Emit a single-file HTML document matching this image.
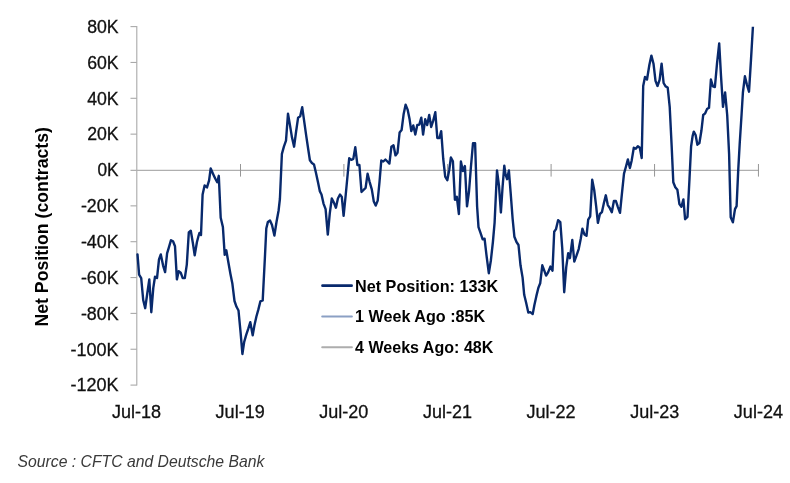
<!DOCTYPE html>
<html><head><meta charset="utf-8"><title>Net Position</title>
<style>html,body{margin:0;padding:0;background:#fff;}body{width:790px;height:483px;overflow:hidden;font-family:"Liberation Sans",sans-serif;}</style></head>
<body>
<svg width="790" height="483" viewBox="0 0 790 483" style="display:block;will-change:transform;opacity:0.9999">
<rect width="790" height="483" fill="#ffffff"/>
<g fill="none">
<line x1="136.8" y1="26.1" x2="136.8" y2="385.6" stroke="#a9a9a9" stroke-width="1.1"/>
<line x1="130.5" y1="26.60" x2="136.8" y2="26.60" stroke="#a9a9a9" stroke-width="1.1"/>
<line x1="130.5" y1="62.45" x2="136.8" y2="62.45" stroke="#a9a9a9" stroke-width="1.1"/>
<line x1="130.5" y1="98.30" x2="136.8" y2="98.30" stroke="#a9a9a9" stroke-width="1.1"/>
<line x1="130.5" y1="134.15" x2="136.8" y2="134.15" stroke="#a9a9a9" stroke-width="1.1"/>
<line x1="130.5" y1="205.85" x2="136.8" y2="205.85" stroke="#a9a9a9" stroke-width="1.1"/>
<line x1="130.5" y1="241.70" x2="136.8" y2="241.70" stroke="#a9a9a9" stroke-width="1.1"/>
<line x1="130.5" y1="277.55" x2="136.8" y2="277.55" stroke="#a9a9a9" stroke-width="1.1"/>
<line x1="130.5" y1="313.40" x2="136.8" y2="313.40" stroke="#a9a9a9" stroke-width="1.1"/>
<line x1="130.5" y1="349.25" x2="136.8" y2="349.25" stroke="#a9a9a9" stroke-width="1.1"/>
<line x1="130.5" y1="385.10" x2="136.8" y2="385.10" stroke="#a9a9a9" stroke-width="1.1"/>
<line x1="130.5" y1="170.25" x2="759" y2="170.25" stroke="#afafaf" stroke-width="1.25"/>
<line x1="240.5" y1="164" x2="240.5" y2="176.6" stroke="#969696" stroke-width="1"/>
<line x1="343.9" y1="164" x2="343.9" y2="176.6" stroke="#969696" stroke-width="1"/>
<line x1="447.6" y1="164" x2="447.6" y2="176.6" stroke="#969696" stroke-width="1"/>
<line x1="551.1" y1="164" x2="551.1" y2="176.6" stroke="#969696" stroke-width="1"/>
<line x1="654.55" y1="164" x2="654.55" y2="176.6" stroke="#969696" stroke-width="1"/>
<line x1="758.45" y1="164" x2="758.45" y2="176.6" stroke="#969696" stroke-width="1"/>
</g>
<g font-family="Liberation Sans, sans-serif" font-size="18" fill="#111" stroke="#111" stroke-width="0.3">
<text x="87.15" y="32.85" textLength="31.45" lengthAdjust="spacingAndGlyphs">80K</text>
<text x="87.15" y="68.70" textLength="31.45" lengthAdjust="spacingAndGlyphs">60K</text>
<text x="87.15" y="104.55" textLength="31.45" lengthAdjust="spacingAndGlyphs">40K</text>
<text x="87.15" y="140.40" textLength="31.45" lengthAdjust="spacingAndGlyphs">20K</text>
<text x="97.55" y="176.25" textLength="21.05" lengthAdjust="spacingAndGlyphs">0K</text>
<text x="80.88" y="212.10" textLength="37.72" lengthAdjust="spacingAndGlyphs">-20K</text>
<text x="80.88" y="247.95" textLength="37.72" lengthAdjust="spacingAndGlyphs">-40K</text>
<text x="80.88" y="283.80" textLength="37.72" lengthAdjust="spacingAndGlyphs">-60K</text>
<text x="80.88" y="319.65" textLength="37.72" lengthAdjust="spacingAndGlyphs">-80K</text>
<text x="70.49" y="355.50" textLength="48.11" lengthAdjust="spacingAndGlyphs">-100K</text>
<text x="70.49" y="391.35" textLength="48.11" lengthAdjust="spacingAndGlyphs">-120K</text>
<text x="111.97" y="417.5" textLength="49.06" lengthAdjust="spacingAndGlyphs">Jul-18</text>
<text x="215.62" y="417.5" textLength="49.06" lengthAdjust="spacingAndGlyphs">Jul-19</text>
<text x="319.27" y="417.5" textLength="49.06" lengthAdjust="spacingAndGlyphs">Jul-20</text>
<text x="422.92" y="417.5" textLength="49.06" lengthAdjust="spacingAndGlyphs">Jul-21</text>
<text x="526.57" y="417.5" textLength="49.06" lengthAdjust="spacingAndGlyphs">Jul-22</text>
<text x="630.22" y="417.5" textLength="49.06" lengthAdjust="spacingAndGlyphs">Jul-23</text>
<text x="733.87" y="417.5" textLength="49.06" lengthAdjust="spacingAndGlyphs">Jul-24</text>
</g>
<text transform="translate(47.8,226.8) rotate(-90)" font-family="Liberation Sans, sans-serif" font-weight="bold" font-size="17.7" fill="#000" text-anchor="middle">Net Position (contracts)</text>
<clipPath id="pc"><rect x="130" y="26.8" width="640" height="365"/></clipPath>
<polyline clip-path="url(#pc)" points="137.5,254.4 139.1,274.7 141.2,278.1 143.2,300 145.2,308.2 147.2,294 149.3,279.4 151.3,312.2 153.3,287.9 155,276.7 157,278.1 159,259.5 160.8,254.4 163.1,265.6 165.1,272.1 167.1,253.4 168.9,247.3 171,240.2 173,241.2 175,246.3 176.9,279.4 178.7,271.2 180.7,272.7 182.7,278.1 184.8,278.1 186.8,264.6 188.8,232.5 190.8,230.7 192.9,243.3 194.7,255.2 196.9,242.2 198.5,236 199.4,233 201,235 202.6,194.5 204.6,185.4 207,187.4 209.1,180.3 210.7,168.5 213.2,174.2 215.2,178.5 217.2,182.3 218.8,175.8 220.7,217.8 222.9,227 224.7,254.8 226.3,250.3 228.4,262.5 230.4,273.7 232.4,283.8 234.5,301 236.5,306.8 238.5,310.5 240.6,332.7 242.4,354 244.2,341.9 246.2,334.8 248.3,328.7 250.3,322.2 252.7,335.2 254.4,325.6 256.4,316.5 258.4,309.4 260.4,301.3 262.7,300.4 264.9,257.5 266.3,228.5 267.9,221.9 270,220.4 272,225 274.4,235.5 276.5,222 278.6,210.5 279.9,199 281.9,153.8 283.9,146.7 286,140.6 288,113.7 290,125.4 292,137.6 294.1,146.7 296.1,131.5 298.1,117.7 300.2,116.3 302.2,107.2 304.2,121.4 306.2,135.6 308.3,149.8 309.9,160.3 311.9,163 314,164.4 316,173 318,182.2 319.9,191.4 321.5,194.5 323.5,203.6 325.6,209.1 327.8,234.6 329.8,213.1 331.8,198.5 333.9,202.6 335.9,207.7 337.9,198.5 340,194.5 341.8,196.9 343.6,215.8 345.6,196 347.6,175 349.2,158.3 351.3,159.9 353.3,158.9 355.3,147.3 357.4,165 359.4,165 361.5,192 363.5,190 365.6,187.8 367.6,173.7 369.6,181.8 371.8,189.4 373.8,201.6 375.7,205.6 377.7,200.6 379.5,182 381.3,160.5 383.3,161.5 385.4,159.5 387.4,161.5 389.4,163.6 391.4,146.7 393.5,145.3 395.5,155.4 397.5,152.8 399.6,132.5 401.6,130 403.6,114.3 405.6,104.7 407.6,109.6 409.6,119.3 411.3,131.1 413.3,125.4 415.3,134.6 417.3,125 419.3,124.6 421.3,117.7 423.1,134.6 425.2,119.3 427.2,125 429.2,114.9 431.2,127 433.3,120.4 435.3,112.2 437.3,138 439.4,138 441.2,131.1 443.2,158.5 445.2,176.6 447.3,180.2 449.3,169.5 450.9,157.5 452.9,161.3 454.9,199.8 456.8,196.8 458.9,214 460.9,161.5 462.9,171.1 464.9,166 467,206.4 469,191.5 471,166 473,143.3 475.1,143.3 477.1,206.4 478.5,227.1 480.6,233.1 482.6,239.2 484.6,238.8 486.6,256.2 488.8,273.2 490.9,260.2 492.9,242 494.6,222.6 496.2,188.1 497,170.5 499,186 500.9,212.5 502.5,188 504.3,165.6 505.5,174.1 507.1,179.2 508.9,170.5 510.6,192.2 512.6,218.5 514.4,236.8 516.5,242 518.5,245 520.5,265.3 522.6,277.6 524.2,294.8 526.2,303 528.3,312.5 530.3,312.1 532.7,314.1 534.4,305 536.4,295.9 538.4,287.7 540.2,283.3 542.3,265.3 544.3,270.7 546.1,275.6 548.1,272.4 550.4,266.6 552.5,270.7 554.2,231.7 556,229.1 558.1,220.2 560.3,222.2 562.3,249.1 564.2,292.2 566.2,267.3 568.2,253.1 569.9,258.2 572.3,240 574.3,261.6 576.3,256.2 578.7,249.1 580.7,239 582.4,228.7 584.4,234.4 586.5,235.8 588.2,219.7 590.2,216.3 592.2,179.8 594.2,190 596.2,206.7 597.9,222.9 599.9,214 601.9,212.2 603.9,203 605.8,195.3 607.8,205.1 609.8,208.1 611.8,212.2 613.9,201 615.9,201 617.9,207.1 620,212.8 622,192.9 624,173.6 626,166.5 627.9,159.4 629.9,168.1 631.7,160.4 633.8,147.8 635.8,148.7 637.8,146.2 639.8,147.8 641.7,158 643.2,86 645,76.9 647,79.5 649.4,64.7 651.4,55.6 653.5,63.7 655.5,80.9 657.5,86 659.6,79.9 661.6,63.7 663.6,83 665.6,86.4 667.7,87.5 669.7,106.8 671.7,147 673.3,182.3 675.3,187.2 677.4,189.8 679.4,204 681.4,206.7 683.4,199.4 685.1,219.2 687.5,216.8 689.5,178.7 691.1,146.5 692.6,136.1 693.8,131.6 695.6,135 697.4,144.7 699.4,143 701.4,130.8 703.2,115 705.2,113.3 707,109.1 709,107.8 710.9,79.5 712.9,86.4 714.9,87 717,63.7 719.2,43.4 721,75.9 723,106.8 725.1,92.4 727.2,115 729.1,154 730.7,217.2 732.9,222.3 735,209.1 736.6,206.1 738.2,170.6 739.7,143.8 741.6,114 742.9,92.5 744.9,76.3 747,85 749,91.7 751,59.6 752.9,27 753.6,15" fill="none" stroke="#08296c" stroke-width="2.4" stroke-linejoin="round" stroke-linecap="round"/>
<g stroke-width="2.7" stroke-linecap="round">
<line x1="322.5" y1="285.7" x2="351.6" y2="285.7" stroke="#08296c"/>
<line x1="322.2" y1="316.5" x2="351.9" y2="316.5" stroke="#8ba0c4" stroke-width="2"/>
<line x1="322.2" y1="347.25" x2="351.9" y2="347.25" stroke="#adadad" stroke-width="2"/>
</g>
<g font-family="Liberation Sans, sans-serif" font-weight="bold" font-size="16.3" fill="#000">
<text x="355" y="291.6" textLength="143.2" lengthAdjust="spacingAndGlyphs">Net Position: 133K</text>
<text x="355" y="322.2" textLength="130.2" lengthAdjust="spacingAndGlyphs">1 Week Ago :85K</text>
<text x="355" y="352.8" textLength="138.4" lengthAdjust="spacingAndGlyphs">4 Weeks Ago: 48K</text>
</g>
<text x="17.5" y="466.7" font-family="Liberation Sans, sans-serif" font-style="italic" font-size="15.75" fill="#3a3a3a">Source : CFTC and Deutsche Bank</text>
</svg>
</body></html>
